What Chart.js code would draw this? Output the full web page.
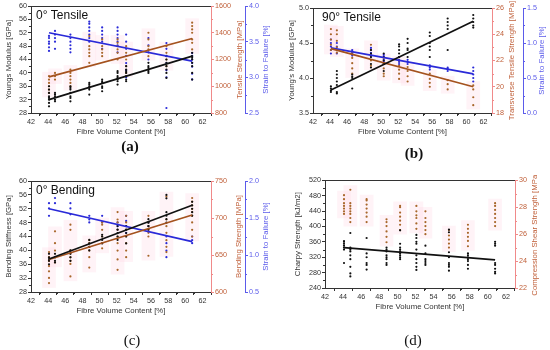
<!DOCTYPE html>
<html>
<head>
<meta charset="utf-8">
<script src="https://cdn.jsdelivr.net/npm/chart.js@4.4.1/dist/chart.umd.min.js"></script>
<style>
  html, body { margin: 0; padding: 0; background: #fff; }
  body { width: 550px; height: 350px; position: relative; overflow: hidden; }
  .panel { position: absolute; width: 275px; height: 175px; }
  .cap { position: absolute; font-family: 'Liberation Serif', 'DejaVu Serif', serif; font-size: 15px; color: #111; transform: translate(-50%, -50%); }
</style>
</head>
<body>
<div class="panel" style="left:0;top:0"><canvas id="chartA"></canvas></div>
<div class="panel" style="left:275px;top:0"><canvas id="chartB"></canvas></div>
<div class="panel" style="left:0;top:175px"><canvas id="chartC"></canvas></div>
<div class="panel" style="left:275px;top:175px"><canvas id="chartD"></canvas></div>
<div class="cap" style="left:130px;top:146px;font-weight:bold">(a)</div>
<div class="cap" style="left:414px;top:153px;font-weight:bold">(b)</div>
<div class="cap" style="left:132px;top:340px">(c)</div>
<div class="cap" style="left:413px;top:340px">(d)</div>
<script>
// fibre volume content of each laminate group [%]
const fvc = [44.1, 44.8, 46.6, 48.8, 50.3, 52.1, 53.1, 55.7, 57.8, 60.8];
const fitX = [44.1, 60.8];

// (a) 0° tensile
const aModulus = [
  [30, 31, 32, 32.5, 33, 34, 35, 36],
  [31.5, 32, 33, 33.5, 34],
  [31.5, 32.5, 33, 34, 35, 35.5, 36],
  [33.5, 35, 35.5, 36, 36.5, 37],
  [34.5, 35.5, 36, 37, 37.5, 38],
  [36.5, 37.5, 38, 38.5, 39, 40, 40.5],
  [37.5, 38, 39, 40, 40.5, 41, 42],
  [40, 40.5, 41, 41.5, 42, 43],
  [38.5, 40, 41, 42, 43, 44, 45],
  [38, 40, 42, 43, 44, 44.5, 45, 46]
];
const aStrength = [
  [950, 975, 1000, 1025, 1050, 1075],
  [1050, 1075, 1100],
  [1000, 1025, 1050, 1075, 1100, 1125],
  [1175, 1225, 1250, 1275, 1300, 1375],
  [1225, 1250, 1275, 1300, 1350],
  [1200, 1250, 1275, 1300, 1325, 1350],
  [1100, 1150, 1200, 1250, 1300],
  [1225, 1275, 1300, 1350, 1400],
  [1150, 1200, 1250, 1300],
  [1275, 1325, 1350, 1400, 1425, 1450, 1475]
];
const aStrain = [
  [3.37, 3.42, 3.47, 3.5, 3.55, 3.58],
  [3.4, 3.5, 3.55, 3.6, 3.65],
  [3.35, 3.4, 3.45, 3.5, 3.55, 3.6],
  [3.5, 3.55, 3.6, 3.65, 3.7, 3.75, 3.78],
  [3.4, 3.5, 3.55, 3.6, 3.65, 3.7],
  [3.35, 3.45, 3.5, 3.55, 3.6, 3.65, 3.7],
  [3.0, 3.1, 3.2, 3.3, 3.4, 3.5, 3.6],
  [3.25, 3.35, 3.45, 3.55],
  [2.57, 3.0, 3.1, 3.2, 3.3, 3.4, 3.48],
  [2.97, 3.05, 3.15, 3.2, 3.25, 3.3, 3.34]
];
const aModulusFit = [32, 45];
const aStrengthFit = [1070, 1357];
const aStrainFit = [3.625, 3.227];

// (b) 90° tensile
const bModulus = [
  [3.8, 3.82, 3.85, 3.88],
  [3.78, 3.8, 3.9, 3.95, 4.0, 4.05, 4.1],
  [3.85, 4.0, 4.02, 4.05],
  [4.15, 4.2, 4.3, 4.35, 4.4],
  [4.1, 4.2, 4.25, 4.3, 4.35],
  [4.3, 4.35, 4.4, 4.45, 4.48],
  [4.3, 4.4, 4.42, 4.5, 4.56],
  [4.3, 4.4, 4.45, 4.5, 4.6, 4.65],
  [4.4, 4.7, 4.75, 4.8, 4.85],
  [4.72, 4.75, 4.8, 4.85, 4.9]
];
const bStrength = [
  [22.8, 23.2, 23.6, 24.0, 24.4],
  [22.6, 23.0, 23.5, 24.0, 24.3],
  [21.0, 21.4, 21.8, 22.2, 22.6],
  [21.6, 22.0, 22.4, 22.8, 23.2],
  [20.8, 21.0, 21.4, 21.8, 22.2],
  [20.6, 21.0, 21.3, 21.6, 22.0],
  [20.4, 20.8, 21.2, 21.5],
  [20.0, 20.3, 20.6, 21.0],
  [19.8, 20.2, 20.5],
  [18.6, 19.2, 19.8, 20.1]
];
const bStrain = [
  [0.85, 0.9, 0.95, 1.0, 1.05],
  [0.85, 0.9, 0.95, 1.0],
  [0.82, 0.85, 0.88, 0.9],
  [0.8, 0.83, 0.86, 0.9, 0.93],
  [0.7, 0.73, 0.76, 0.8, 0.83],
  [0.7, 0.73, 0.76, 0.8],
  [0.7, 0.73, 0.76],
  [0.62, 0.65, 0.68],
  [0.6, 0.63, 0.65],
  [0.45, 0.5, 0.55, 0.6, 0.65]
];
const bModulusFit = [3.83, 4.81];
const bStrengthFit = [22.9, 20.0];
const bStrainFit = [0.93, 0.56];

// (c) 0° bending
const cStiffness = [
  [36, 37, 37.5, 38, 39],
  [36.5, 37, 38, 39],
  [37, 38, 39, 40],
  [40, 41, 42, 43],
  [42, 43, 44, 44.5],
  [43, 44, 45, 46, 47],
  [42, 44, 45, 46, 47],
  [46, 47, 48, 49],
  [48, 49, 50, 51, 55, 56],
  [50, 51, 52, 53, 54]
];
const cStrength = [
  [612, 619, 628, 635, 642, 647, 654],
  [640, 647, 656, 666, 682],
  [621, 638, 642, 647, 652, 656, 684, 691],
  [633, 647, 656, 661, 666, 670],
  [659, 666, 675, 684, 691, 694],
  [630, 644, 656, 666, 675, 684, 694, 698, 708],
  [647, 656, 666, 675, 684, 694, 703],
  [649, 675, 680, 684, 689, 694, 703],
  [654, 661, 670, 680, 689, 698, 729],
  [675, 684, 694, 703, 708, 712, 717, 722, 727]
];
const cStrain = [
  [1.53, 1.63, 1.7],
  [1.7, 1.77],
  [1.55, 1.63, 1.7],
  [1.44, 1.48, 1.53],
  [1.44, 1.53],
  [1.34, 1.39, 1.44],
  [1.3, 1.39, 1.46, 1.53],
  [1.32, 1.39, 1.44],
  [0.97, 1.06, 1.16, 1.25],
  [1.16, 1.2, 1.25]
];
const cStiffnessFit = [37.5, 53];
const cStrengthFit = [644, 704];
const cStrainFit = [1.625, 1.18];

// (d) charpy / compression shear
const dCharpy = [
  [305, 340, 345, 350, 355, 360, 362],
  [270, 278, 295, 315, 325, 335, 340, 345, 383],
  [288, 300, 305, 320, 330, 370],
  [300, 305, 315, 320, 325, 335, 340, 345],
  [315, 320, 325, 330, 335, 340, 345, 355, 390],
  [287, 295, 305, 315, 325, 340, 355, 360, 370, 378],
  [300, 305, 310, 315, 330, 350],
  [285, 295, 300, 305, 320, 333, 385, 392],
  [290, 300, 310, 315, 320, 325, 330],
  [278, 282, 290, 300, 305, 350, 355, 360]
];
const dShear = [
  [27.5, 27.7, 27.9, 28.1, 28.3, 28.6, 28.9],
  [26.9, 27.2, 27.5, 27.7, 27.9, 28.1, 28.3, 29.3],
  [26.9, 27.3, 27.6, 27.9, 28.2, 28.5, 28.6],
  [25.4, 25.8, 26.2, 26.6, 26.9, 27.1],
  [26.3, 26.7, 27.0, 27.3, 27.6, 28.0, 28.1],
  [26.4, 26.8, 27.2, 27.4, 27.7, 28.1],
  [26.0, 26.3, 26.6, 26.9, 27.2, 27.7],
  [25.0, 25.3, 25.6, 25.9, 26.3],
  [25.1, 25.5, 25.8, 26.1, 26.4, 26.7],
  [26.6, 26.9, 27.2, 27.5, 27.8, 28.1, 28.3]
];
const dCharpyFit = [345, 313];

const FONT = "'Liberation Sans', Arial, sans-serif";
Chart.defaults.font.family = FONT;
Chart.defaults.animation = false;

const BLACK = '#111111', GREY = '#333333';
const ORANGE_PT = '#a8662a', ORANGE_LN = '#a4521e', ORANGE_AX = '#f08a8a', ORANGE_TX = '#c0603a';
const BLUE = '#2a2ad8', BLUE_AX = '#5b5bea';
const PINK = 'rgba(255, 200, 220, 0.22)';
const TITLE_SIZE = 7.8;

function cloud(groups) {
  const pts = [];
  groups.forEach((g, i) => g.forEach(v => pts.push({ x: fvc[i], y: v })));
  return pts;
}
function fit(ys) {
  return fitX.map((x, i) => ({ x: x, y: ys[i] }));
}
function boxes(groups, pad) {
  return groups.map((g, i) => ({ x: fvc[i], y: [Math.min(...g) - pad, Math.max(...g) + pad] }));
}

function pointSet(data, color, axis) {
  return { type: 'line', data: data, yAxisID: axis, showLine: false, pointRadius: 1.1,
    pointHoverRadius: 1.1, pointBorderWidth: 0, pointBackgroundColor: color, order: 5 };
}
function lineSet(data, color, axis) {
  return { type: 'line', data: data, yAxisID: axis, borderColor: color, borderWidth: 1.7,
    pointRadius: 0, fill: false, order: 0 };
}
function boxSet(data, axis) {
  return { type: 'bar', data: data, yAxisID: axis, backgroundColor: PINK, borderWidth: 0,
    barThickness: 13, order: 10 };
}

function xAxis() {
  return {
    type: 'linear', position: 'bottom', min: 42, max: 63, offset: false,
    border: { color: GREY },
    grid: { drawOnChartArea: false, color: GREY, tickLength: 3 },
    ticks: { stepSize: 2, includeBounds: false, color: GREY, padding: 2, font: { size: 7.2 },
      maxRotation: 0, autoSkip: false },
    title: { display: true, text: 'Fibre Volume Content [%]', color: GREY, font: { size: TITLE_SIZE },
      padding: { top: 0, bottom: 1 } },
    afterFit: s => { s.height = 25; }
  };
}
// left titles go through Chart.js; right titles are drawn by the plugin so they read upwards
function yAxis(o) {
  return {
    type: 'linear', position: o.pos, min: o.min, max: o.max, weight: o.weight || 0,
    border: { color: o.axis },
    grid: { drawOnChartArea: false, color: o.axis, tickLength: 3 },
    ticks: { stepSize: o.step, includeBounds: false, color: o.tick, padding: 1, font: { size: 7.2 },
      callback: v => o.dec ? v.toFixed(o.dec) : v },
    title: { display: o.pos === 'left', text: o.title, color: o.tick, font: { size: TITLE_SIZE },
      padding: { top: o.tp, bottom: 0 } },
    afterFit: s => { s.width = o.w; }
  };
}

const decor = {
  id: 'decor',
  afterDraw(chart, args, opts) {
    const { ctx, chartArea: a } = chart;
    ctx.save();
    ctx.lineWidth = 1;
    ctx.strokeStyle = GREY;
    ctx.beginPath();
    ctx.moveTo(a.left, Math.round(a.top) + 0.5);
    ctx.lineTo(a.right, Math.round(a.top) + 0.5);
    ctx.stroke();
    // minor ticks halfway between the labelled ones
    Object.values(chart.scales).forEach(s => {
      ctx.strokeStyle = s.options.border.color;
      for (let i = 0; i + 1 < s.ticks.length; i++) {
        const mid = (s.ticks[i].value + s.ticks[i + 1].value) / 2;
        const p = Math.round(s.getPixelForValue(mid)) + 0.5;
        ctx.beginPath();
        if (s.isHorizontal()) { ctx.moveTo(p, s.top); ctx.lineTo(p, s.top + 2); }
        else if (s.position === 'left') { ctx.moveTo(s.right, p); ctx.lineTo(s.right - 2, p); }
        else { ctx.moveTo(s.left, p); ctx.lineTo(s.left + 2, p); }
        ctx.stroke();
      }
    });
    // right-hand axis titles, rotated to read bottom-to-top
    ctx.font = TITLE_SIZE + 'px ' + FONT;
    ctx.textAlign = 'center';
    ctx.textBaseline = 'middle';
    (opts.rightTitles || []).forEach(t => {
      const s = chart.scales[t.axis];
      ctx.save();
      ctx.translate(s.right - t.off, (s.top + s.bottom) / 2);
      ctx.rotate(-Math.PI / 2);
      ctx.fillStyle = t.color;
      ctx.fillText(t.text, 0, 0);
      ctx.restore();
    });
    if (opts.label) {
      ctx.fillStyle = BLACK;
      ctx.font = '12px ' + FONT;
      ctx.textAlign = 'left';
      ctx.textBaseline = 'top';
      ctx.fillText(opts.label, a.left + opts.dx, a.top + 4);
    }
    ctx.restore();
  }
};

function makeChart(id, datasets, scales, pad, label, dx, rightTitles) {
  return new Chart(document.getElementById(id), {
    type: 'scatter',
    data: { datasets: datasets },
    options: {
      responsive: true,
      maintainAspectRatio: false,
      layout: { padding: pad },
      plugins: { legend: { display: false }, tooltip: { enabled: false },
        decor: { label: label, dx: dx, rightTitles: rightTitles } },
      scales: scales
    },
    plugins: [decor]
  });
}

// (a)
makeChart('chartA', [
  boxSet(boxes(aStrength, 30), 'yR'),
  pointSet(cloud(aModulus), BLACK, 'y'),
  pointSet(cloud(aStrength), ORANGE_PT, 'yR'),
  pointSet(cloud(aStrain), BLUE, 'yB'),
  lineSet(fit(aModulusFit), BLACK, 'y'),
  lineSet(fit(aStrengthFit), ORANGE_LN, 'yR'),
  lineSet(fit(aStrainFit), BLUE, 'yB')
], {
  x: xAxis(),
  y: yAxis({ pos: 'left', min: 28, max: 60, step: 4, axis: GREY, tick: GREY, title: 'Youngs Modulus [GPa]', w: 31, tp: 4 }),
  yR: yAxis({ pos: 'right', min: 800, max: 1600, step: 200, axis: ORANGE_AX, tick: ORANGE_TX, w: 34, weight: 0 }),
  yB: yAxis({ pos: 'right', min: 2.5, max: 4.0, step: 0.5, dec: 1, axis: BLUE_AX, tick: BLUE_AX, w: 27, weight: 1 })
}, { top: 6, right: 3, left: 0, bottom: 37 }, '0° Tensile', 5, [
  { axis: 'yR', text: 'Tensile Strength [MPa]', color: ORANGE_TX, off: 5.5 },
  { axis: 'yB', text: 'Strain to Failure [%]', color: BLUE_AX, off: 6 }
]);

// (b)
makeChart('chartB', [
  boxSet(boxes(bStrength, 0.3), 'yR'),
  pointSet(cloud(bModulus), BLACK, 'y'),
  pointSet(cloud(bStrength), ORANGE_PT, 'yR'),
  pointSet(cloud(bStrain), BLUE, 'yB'),
  lineSet(fit(bModulusFit), BLACK, 'y'),
  lineSet(fit(bStrengthFit), ORANGE_LN, 'yR'),
  lineSet(fit(bStrainFit), BLUE, 'yB')
], {
  x: xAxis(),
  y: yAxis({ pos: 'left', min: 3.5, max: 5.0, step: 0.5, dec: 1, axis: GREY, tick: GREY, title: "Young's Modulus [GPa]", w: 38, tp: 12 }),
  yR: yAxis({ pos: 'right', min: 18, max: 26, step: 2, axis: ORANGE_AX, tick: ORANGE_TX, w: 31, weight: 0 }),
  yB: yAxis({ pos: 'right', min: 0, max: 1.5, step: 0.5, dec: 1, axis: BLUE_AX, tick: BLUE_AX, w: 25, weight: 1 })
}, { top: 8, right: 2, left: 0, bottom: 37 }, '90° Tensile', 9, [
  { axis: 'yR', text: 'Transverse Tensile Strength [MPa]', color: ORANGE_TX, off: 11 },
  { axis: 'yB', text: 'Strain to Failure [%]', color: BLUE_AX, off: 6 }
]);

// (c)
makeChart('chartC', [
  boxSet(boxes(cStrength, 6), 'yR'),
  pointSet(cloud(cStiffness), BLACK, 'y'),
  pointSet(cloud(cStrength), ORANGE_PT, 'yR'),
  pointSet(cloud(cStrain), BLUE, 'yB'),
  lineSet(fit(cStiffnessFit), BLACK, 'y'),
  lineSet(fit(cStrengthFit), ORANGE_LN, 'yR'),
  lineSet(fit(cStrainFit), BLUE, 'yB')
], {
  x: xAxis(),
  y: yAxis({ pos: 'left', min: 28, max: 60, step: 4, axis: GREY, tick: GREY, title: 'Bending Stiffness [GPa]', w: 31, tp: 4 }),
  yR: yAxis({ pos: 'right', min: 600, max: 750, step: 50, axis: ORANGE_AX, tick: ORANGE_TX, w: 34, weight: 0 }),
  yB: yAxis({ pos: 'right', min: 0.5, max: 2.0, step: 0.5, dec: 1, axis: BLUE_AX, tick: BLUE_AX, w: 27, weight: 1 })
}, { top: 6, right: 3, left: 0, bottom: 33 }, '0° Bending', 5, [
  { axis: 'yR', text: 'Bending Strength [MPa]', color: ORANGE_TX, off: 6 },
  { axis: 'yB', text: 'Strain to Failure [%]', color: BLUE_AX, off: 6 }
]);

// (d)
makeChart('chartD', [
  boxSet(boxes(dShear, 0.3), 'yR'),
  pointSet(cloud(dCharpy), BLACK, 'y'),
  pointSet(cloud(dShear), ORANGE_PT, 'yR'),
  lineSet(fit(dCharpyFit), BLACK, 'y')
], {
  x: xAxis(),
  y: yAxis({ pos: 'left', min: 240, max: 520, step: 40, axis: GREY, tick: GREY, title: 'Charpy Strength [kJ/m2]', w: 50, tp: 18 }),
  yR: yAxis({ pos: 'right', min: 22, max: 30, step: 2, axis: ORANGE_AX, tick: ORANGE_TX, w: 27, weight: 0 })
}, { top: 5, right: 8, left: 0, bottom: 37 }, '', 0, [
  { axis: 'yR', text: 'Compression Shear Strength [MPa]', color: ORANGE_TX, off: 7 }
]);
</script>
</body>
</html>
